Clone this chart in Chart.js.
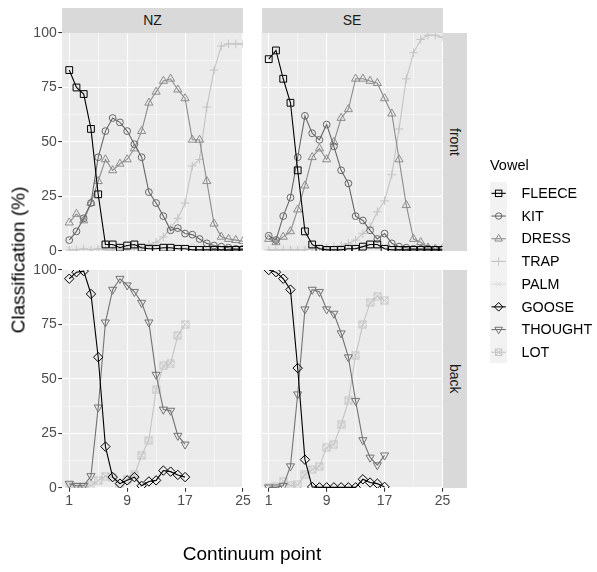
<!DOCTYPE html>
<html><head><meta charset="utf-8">
<script src="https://cdn.jsdelivr.net/npm/chart.js@4.4.1/dist/chart.umd.min.js"></script>
<style>
html,body{margin:0;padding:0;background:#fff;}
#wrap{position:relative;width:597px;height:572px;overflow:hidden;font-family:"Liberation Sans",Arial,Helvetica,sans-serif;}
#wrap canvas{position:absolute;left:0;top:0;}
.strip{position:absolute;background:#d9d9d9;color:#1a1a1a;font-size:14px;display:flex;align-items:center;justify-content:center;}
.vtext{writing-mode:vertical-rl;}
.lbl{position:absolute;white-space:nowrap;line-height:1;}
</style></head><body>
<div id="wrap">
  <canvas id="cNZf" width="597" height="572"></canvas>
  <canvas id="cSEf" width="597" height="572"></canvas>
  <canvas id="cNZb" width="597" height="572"></canvas>
  <canvas id="cSEb" width="597" height="572"></canvas>
  <div class="strip" style="left:62px;top:7.5px;width:181px;height:25.5px;">NZ</div>
  <div class="strip" style="left:261.5px;top:7.5px;width:181px;height:25.5px;">SE</div>
  <div class="strip" style="left:443px;top:33px;width:24px;height:218px;"><span class="vtext">front</span></div>
  <div class="strip" style="left:443px;top:270px;width:24px;height:218px;"><span class="vtext">back</span></div>
  <div class="lbl" style="left:18px;top:260px;font-size:19px;color:#000;transform:translate(-50%,-50%) rotate(-90deg);">Classification (%)</div>
  <div class="lbl" style="left:252px;top:553px;font-size:19px;color:#000;transform:translate(-50%,-50%);">Continuum point</div>
  <div class="lbl" style="left:490px;top:165px;font-size:14.5px;color:#000;transform:translateY(-50%);">Vowel</div>
  <div id="legend"></div>
</div>
<script>
// ---- data ----
const continuum = [1,2,3,4,5,6,7,8,9,10,11,12,13,14,15,16,17,18,19,20,21,22,23,24,25];
const xTickValues = [1,5,9,13,17,21,25];
const xTickLabels = ['1','','9','','17','','25'];
const yTickValues = [0,12.5,25,37.5,50,62.5,75,87.5,100];
const yTickLabels = ['0','','25','','50','','75','','100'];
const dialects = ['NZ','SE'];
const rows = ['front','back'];
const vowels = ['FLEECE','KIT','DRESS','TRAP','PALM','GOOSE','THOUGHT','LOT'];
const frontVowels = ['FLEECE','KIT','DRESS','TRAP','PALM'];
const backVowels = ['GOOSE','THOUGHT','LOT'];

// NZ front
const FLEECE_NZ = [83,75,72,56,26,3,3,1.5,2.5,3,1.5,1,1,1.5,1.5,1,1,0.5,0.5,0.5,0.5,0.5,0.5,0.5,0.5];
const KIT_NZ    = [5,9,15,22,43,55,61,59,55,49,43,27,22,16,9.5,10.5,8,7.5,5.5,3.5,2.5,2,1.5,1,1];
const DRESS_NZ  = [13,17,14,22,32,42,37,40,42,47,55,68,73,78,79,74,70,51,51,32,12.5,6.5,5.5,5,4.5];
const TRAP_NZ   = [0.5,0.5,1,0.5,1,0.5,0.5,1,0.5,1,1.5,3,4,6.5,10.5,15,22,39,42,66,83,94,95,95,95];
const PALM_NZ   = [1,0.5,1,0.5,1,1,0.5,1,1,1.5,1,2,2,1,1,1,1.5,3,2,1,1,0.5,0.5,0.5,0.5];
// SE front
const FLEECE_SE = [88,92,79,68,37,9,3,1,0.5,0.5,0.5,1,1,2,3,3,1,0.5,0.5,0.5,0.5,0.5,0.5,0.5,0.5];
const KIT_SE    = [7,5,16,24.5,43,62,54,51,58,48,37,31,16,14,9.5,5.5,8,3.5,2,1.5,1,1,1,0.5,0.5];
const DRESS_SE  = [5.5,4,6.5,9,19,30,43,47,42,50,61,65,79,79,78,77,70,63,42,21,5.5,4,1.5,1,1];
const TRAP_SE   = [0.5,0.5,0.5,0.5,0.5,0.5,1,1,1.5,2,2.5,3.5,5,8,11,18,23,35,56,79,91,97,99,99,98];
const PALM_SE   = [0.5,0.5,0.5,1,0.5,1,0.5,1,1,0.5,1,1,1.5,1,1,1,2,1.5,1,1.5,1,1,1.5,2,1];
// NZ back
const GOOSE_NZ   = [96,99,99.5,89,60,19,5,2,3.5,5,1,3,3.5,8,7.5,6,5];
const THOUGHT_NZ = [2,1,1,5.5,37,76,91,96,93,90,85,76,52,36,35.5,24,20];
const LOT_NZ     = [1,0.5,0.5,1,3.5,5.5,5,2,4,6,15,22,45,56,57,70,75];
// SE back
const GOOSE_SE   = [100,99,96,91,55,13,0.5,0.3,0.3,0.3,0.3,0.3,0.3,4,2.5,2,0.5];
const THOUGHT_SE = [0.3,0.3,1,10,43,82,91,90,82,80,71,60,40,22,14,10.5,15];
const LOT_SE     = [0.3,0.5,3,1,1.5,6,8.5,10,18.5,20,29,40,61,75,85,88,86];

const seriesData = {
  NZ: {FLEECE:FLEECE_NZ, KIT:KIT_NZ, DRESS:DRESS_NZ, TRAP:TRAP_NZ, PALM:PALM_NZ, GOOSE:GOOSE_NZ, THOUGHT:THOUGHT_NZ, LOT:LOT_NZ},
  SE: {FLEECE:FLEECE_SE, KIT:KIT_SE, DRESS:DRESS_SE, TRAP:TRAP_SE, PALM:PALM_SE, GOOSE:GOOSE_SE, THOUGHT:THOUGHT_SE, LOT:LOT_SE}
};

// ---- styles ----
const colors = {FLEECE:'#000000', KIT:'#666666', DRESS:'#8c8c8c', TRAP:'#c4c4c4', PALM:'#dcdcdc', GOOSE:'#000000', THOUGHT:'#737373', LOT:'#c4c4c4'};
function lotMarker(color){
  const c=document.createElement('canvas'); c.width=9; c.height=9;
  const g=c.getContext('2d'); g.strokeStyle=color; g.lineWidth=1;
  g.strokeRect(1,1,7,7);
  g.beginPath(); g.moveTo(1,1); g.lineTo(8,8); g.moveTo(8,1); g.lineTo(1,8); g.stroke();
  return c;
}
const markers = {
  FLEECE:{style:'rect', r:4.8, rot:0},
  KIT:{style:'circle', r:3.4, rot:0},
  DRESS:{style:'triangle', r:4.7, rot:0},
  TRAP:{style:'cross', r:4.3, rot:0},
  PALM:{style:'crossRot', r:4.3, rot:0},
  GOOSE:{style:'rectRot', r:4.7, rot:0},
  THOUGHT:{style:'triangle', r:4.7, rot:180},
  LOT:{style:lotMarker(colors.LOT), r:4.5, rot:0}
};

const panelX = {NZ:{l:62, r:243}, SE:{l:261.5, r:442.5}};
const panelY = {front:{t:33, b:251}, back:{t:270, b:488}};
const W = 597, H = 572;

const bgPlugin = {
  id:'panelBg',
  beforeDraw(chart){
    const a = chart.chartArea, ctx = chart.ctx;
    ctx.save(); ctx.fillStyle = '#ebebeb';
    ctx.fillRect(a.left, a.top, a.right-a.left, a.bottom-a.top);
    ctx.restore();
  }
};

function makeChart(id, dialect, row){
  const showX = row === 'back', showY = dialect === 'NZ';
  const yW = showY ? 40 : 0, xH = showX ? 26 : 0;
  const px = panelX[dialect], py = panelY[row];
  const list = row === 'front' ? frontVowels : backVowels;
  const datasets = list.map(v => {
    const m = markers[v], c = colors[v];
    return {
      label: v,
      data: seriesData[dialect][v].map((y,i)=>({x: continuum[i], y})),
      borderColor: c, backgroundColor: 'rgba(0,0,0,0)', borderWidth: 1.1,
      pointStyle: m.style, pointRadius: m.r, pointRotation: m.rot,
      pointBorderColor: c, pointBackgroundColor: 'rgba(0,0,0,0)', pointBorderWidth: 1,
      tension: 0
    };
  });
  const isMajorX = v => xTickLabels[xTickValues.indexOf(v)] !== '';
  const isMajorY = v => yTickLabels[yTickValues.indexOf(v)] !== '';
  return new Chart(document.getElementById(id), {
    type: 'line',
    data: {datasets},
    plugins: [bgPlugin],
    options: {
      responsive: false, animation: false, devicePixelRatio: 1,
      layout: {padding: {left: px.l - yW, right: W - px.r, top: py.t, bottom: H - py.b - xH}},
      plugins: {legend:{display:false}, tooltip:{enabled:false}},
      scales: {
        x: {
          type: 'linear', min: 0, max: 25,
          afterBuildTicks: s => { s.ticks = xTickValues.map(v => ({value: v})); },
          afterFit: s => { s.height = xH; },
          border: {display: false},
          grid: {
            color: '#ffffff',
            lineWidth: ctx => isMajorX(ctx.tick.value) ? 1.07 : 0.53,
            drawTicks: showX, tickLength: 3.7,
            tickColor: ctx => isMajorX(ctx.tick.value) ? '#333333' : 'rgba(0,0,0,0)',
            tickWidth: 1.07
          },
          ticks: {
            display: showX, autoSkip: false, maxRotation: 0, padding: 1,
            color: '#4d4d4d', font: {family: 'Liberation Sans', size: 14},
            callback: v => xTickLabels[xTickValues.indexOf(v)]
          }
        },
        y: {
          type: 'linear', min: 0, max: 100,
          afterBuildTicks: s => { s.ticks = yTickValues.map(v => ({value: v})); },
          afterFit: s => { s.width = yW; },
          border: {display: false},
          grid: {
            color: '#ffffff',
            lineWidth: ctx => isMajorY(ctx.tick.value) ? 1.07 : 0.53,
            drawTicks: showY, tickLength: 3.7,
            tickColor: ctx => isMajorY(ctx.tick.value) ? '#333333' : 'rgba(0,0,0,0)',
            tickWidth: 1.07
          },
          ticks: {
            display: showY, autoSkip: false, padding: 1.6,
            color: '#4d4d4d', font: {family: 'Liberation Sans', size: 14},
            callback: v => yTickLabels[yTickValues.indexOf(v)]
          }
        }
      }
    }
  });
}
makeChart('cNZf','NZ','front');
makeChart('cSEf','SE','front');
makeChart('cNZb','NZ','back');
makeChart('cSEb','SE','back');

// ---- legend ----
(function(){
  const leg = document.getElementById('legend');
  const keyL = 490, keyT = 181.7, keyW = 17.3, rowH = 22.7;
  const ns = 'http://www.w3.org/2000/svg';
  const svg = document.createElementNS(ns,'svg');
  svg.setAttribute('width', keyW); svg.setAttribute('height', rowH*vowels.length);
  svg.style.position='absolute'; svg.style.left=keyL+'px'; svg.style.top=keyT+'px';
  const bg = document.createElementNS(ns,'rect');
  bg.setAttribute('x',0); bg.setAttribute('y',0); bg.setAttribute('width',keyW); bg.setAttribute('height',rowH*vowels.length);
  bg.setAttribute('fill','#f2f2f2'); svg.appendChild(bg);
  function el(tag, attrs){ const e=document.createElementNS(ns,tag); for(const k in attrs) e.setAttribute(k, attrs[k]); svg.appendChild(e); return e; }
  vowels.forEach((v,i) => {
    const cy = rowH*i + rowH/2, cx = keyW/2, c = colors[v];
    el('line',{x1:1.5,y1:cy,x2:keyW-1.5,y2:cy,stroke:c,'stroke-width':1.1});
    const st = {fill:'none',stroke:c,'stroke-width':1};
    if (v==='FLEECE') el('rect',Object.assign({x:cx-3.2,y:cy-3.2,width:6.4,height:6.4},st));
    if (v==='KIT') el('circle',Object.assign({cx,cy,r:3.2},st));
    if (v==='DRESS') el('polygon',Object.assign({points:`${cx},${cy-4.3} ${cx+3.8},${cy+2.3} ${cx-3.8},${cy+2.3}`},st));
    if (v==='TRAP') el('path',Object.assign({d:`M${cx-4},${cy}H${cx+4}M${cx},${cy-4}V${cy+4}`},st));
    if (v==='PALM') el('path',Object.assign({d:`M${cx-3},${cy-3}L${cx+3},${cy+3}M${cx+3},${cy-3}L${cx-3},${cy+3}`},st));
    if (v==='GOOSE') el('polygon',Object.assign({points:`${cx},${cy-4.3} ${cx+4.3},${cy} ${cx},${cy+4.3} ${cx-4.3},${cy}`},st));
    if (v==='THOUGHT') el('polygon',Object.assign({points:`${cx},${cy+4.3} ${cx+3.8},${cy-2.3} ${cx-3.8},${cy-2.3}`},st));
    if (v==='LOT') el('path',Object.assign({d:`M${cx-3.2},${cy-3.2}h6.4v6.4h-6.4zM${cx-3.2},${cy-3.2}l6.4,6.4M${cx+3.2},${cy-3.2}l-6.4,6.4`},st));
    const t = document.createElement('div');
    t.className='lbl'; t.textContent=v;
    t.style.left='521.5px'; t.style.top=(keyT+cy)+'px'; t.style.transform='translateY(-50%)';
    t.style.fontSize='14.3px'; t.style.color='#000';
    leg.appendChild(t);
  });
  leg.appendChild(svg);
})();
</script>
</body></html>
